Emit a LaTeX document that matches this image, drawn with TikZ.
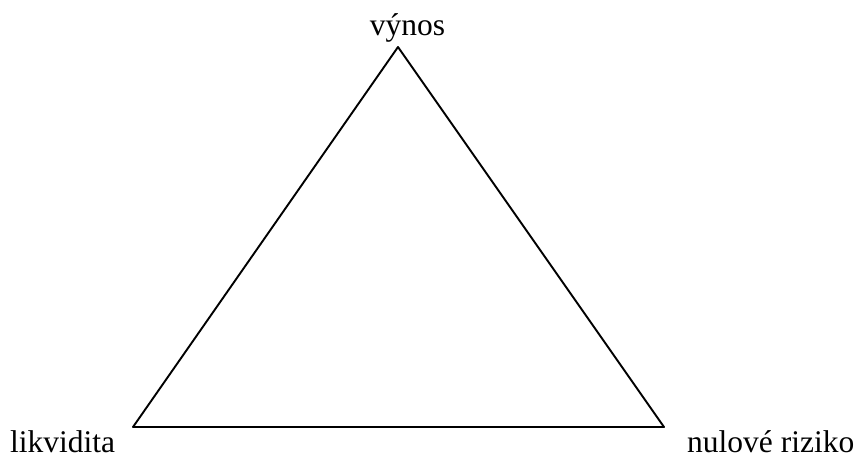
\documentclass[tikz,border=0pt]{standalone}
\usepackage{fontspec}
\setmainfont{Liberation Serif}
\usepackage{tikz}
\usetikzlibrary{calc}

\tikzset{
	vrchol/.style={font=\fontsize{31.5}{36}\selectfont, inner sep=0pt, text depth=0pt}
}

\begin{document}
\begin{tikzpicture}[x=1pt, y=-1pt, line cap=round, line join=round]
				\useasboundingbox (0,0) rectangle (855,458);
				\coordinate (V) at (398,47);
				\coordinate (L) at (133,427);
				\coordinate (R) at (664,427);
				
				\draw[line width=1.9pt] (V)--(L)--(R)--cycle;
				
				\node[vrchol, anchor=base] (vynos) at (407.5,35) {výnos};
				\node[vrchol, anchor=base west] (likvidita) at (10,452) {likvidita};
				\node[vrchol, anchor=base west] (riziko) at (687,452) {nulové riziko};
			\end{tikzpicture}
\end{document}
